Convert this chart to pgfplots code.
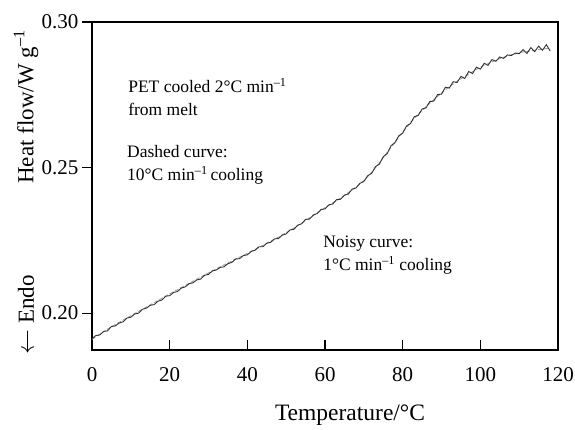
\documentclass[border=0pt]{standalone}
\usepackage{fontspec}
\setmainfont{Liberation Serif}
\usepackage{pgfplots}
\usepackage{pgfplotstable}
\pgfplotsset{compat=1.18}

% 1 K/min cooling run (noisy trace)
\pgfplotstableread{
T hf
0 0.1912
1 0.1923
2 0.1925
3 0.1937
4 0.1939
5 0.1954
6 0.1956
7 0.1966
8 0.1970
9 0.1983
10 0.1986
11 0.1997
12 0.2000
13 0.2013
14 0.2017
15 0.2027
16 0.2029
17 0.2041
18 0.2045
19 0.2058
20 0.2060
21 0.2071
22 0.2074
23 0.2086
24 0.2090
25 0.2101
26 0.2104
27 0.2114
28 0.2117
29 0.2130
30 0.2133
31 0.2145
32 0.2148
33 0.2157
34 0.2159
35 0.2170
36 0.2174
37 0.2186
38 0.2187
39 0.2198
40 0.2200
41 0.2212
42 0.2216
43 0.2228
44 0.2228
45 0.2240
46 0.2243
47 0.2255
48 0.2256
49 0.2268
50 0.2272
51 0.2286
52 0.2288
53 0.2302
54 0.2307
55 0.2322
56 0.2323
57 0.2337
58 0.2342
59 0.2356
60 0.2358
61 0.2372
62 0.2375
63 0.2390
64 0.2391
65 0.2405
66 0.2409
67 0.2426
68 0.2430
69 0.2446
70 0.2452
71 0.2472
72 0.2480
73 0.2503
74 0.2512
75 0.2537
76 0.2548
77 0.2575
78 0.2585
79 0.2609
80 0.2618
81 0.2643
82 0.2651
83 0.2675
84 0.2679
85 0.2701
86 0.2705
87 0.2727
88 0.2728
89 0.2751
90 0.2752
91 0.2776
92 0.2773
93 0.2795
94 0.2792
95 0.2813
96 0.2806
97 0.2830
98 0.2823
99 0.2845
100 0.2838
101 0.2858
102 0.2851
103 0.2871
104 0.2865
105 0.2880
106 0.2875
107 0.2887
108 0.2885
109 0.2893
110 0.2891
111 0.2905
112 0.2892
113 0.2912
114 0.2898
115 0.2917
116 0.2903
117 0.2922
118 0.2900
}\noisydata

% 10 K/min cooling run (dashed trace)
\pgfplotstableread{
T hf
0 0.1910
4 0.1945
8 0.1976
12 0.2006
16 0.2036
20 0.2066
24 0.2095
28 0.2124
32 0.2152
36 0.2179
40 0.2205
44 0.2233
48 0.2261
52 0.2292
56 0.2327
60 0.2362
64 0.2395
68 0.2433
70 0.2455
72 0.2483
74 0.2516
76 0.2552
78 0.2588
80 0.2622
82 0.2654
84 0.2683
86 0.2709
88 0.2733
90 0.2756
92 0.2778
94 0.2796
96 0.2813
98 0.2829
100 0.2845
102 0.2857
104 0.2869
106 0.2879
108 0.2887
110 0.2895
112 0.2899
114 0.2903
116 0.2907
118 0.2910
}\dasheddata

\begin{document}
\begin{tikzpicture}
\path[use as bounding box] (-92pt,-80pt) rectangle (483pt,350pt);
\begin{axis}[
  anchor=south west, at={(0pt,0pt)},
  scale only axis, width=466pt, height=328pt,
  xmin=0, xmax=120, ymin=0.18733, ymax=0.30,
  xtick={0,20,...,120}, ytick={0.20,0.25,0.30},
  xtick pos=bottom, ytick pos=left,
  xtick align=inside, ytick align=outside,
  major tick length=10pt,
  tick style={line width=1.1pt, black},
  axis line style={line width=1.3pt},
  yticklabel style={/pgf/number format/.cd, fixed, fixed zerofill, precision=2},
  /pgf/number format/assume math mode=true,
  ticklabel style={font=\fontsize{21}{25}\selectfont},
  xticklabel style={yshift=-14pt},
  clip=false,
]
\addplot[gray!75, dash pattern=on 4pt off 2pt, line width=0.9pt] table[x=T, y=hf] {\dasheddata};
\addplot[black!80, line width=0.9pt] table[x=T, y=hf] {\noisydata};

\node[anchor=west, align=left, inner xsep=0pt, font=\fontsize{17.5}{23}\selectfont] at (axis cs:9.3,0.2742)
  {PET cooled 2°C min\textsuperscript{--1}\\from melt};
\node[anchor=west, align=left, inner xsep=0pt, font=\fontsize{17.5}{23}\selectfont] at (axis cs:9.0,0.2509)
  {Dashed curve:\\10°C min\textsuperscript{--1}\,cooling};
\node[anchor=west, align=left, inner xsep=0pt, font=\fontsize{17.5}{23}\selectfont] at (axis cs:59.5,0.2198)
  {Noisy curve:\\1°C min\textsuperscript{--1} cooling};
\end{axis}
\node[rotate=90, font=\fontsize{23}{27}\selectfont] at (-66pt,243pt) {Heat flow/W g\textsuperscript{--1}};
\node[rotate=90, font=\fontsize{23}{27}\selectfont] at (-66pt,35pt) {$\leftarrow$ Endo};
\node[font=\fontsize{23.5}{27}\selectfont] at (258pt,-65pt) {Temperature/°C};
\end{tikzpicture}
\end{document}
